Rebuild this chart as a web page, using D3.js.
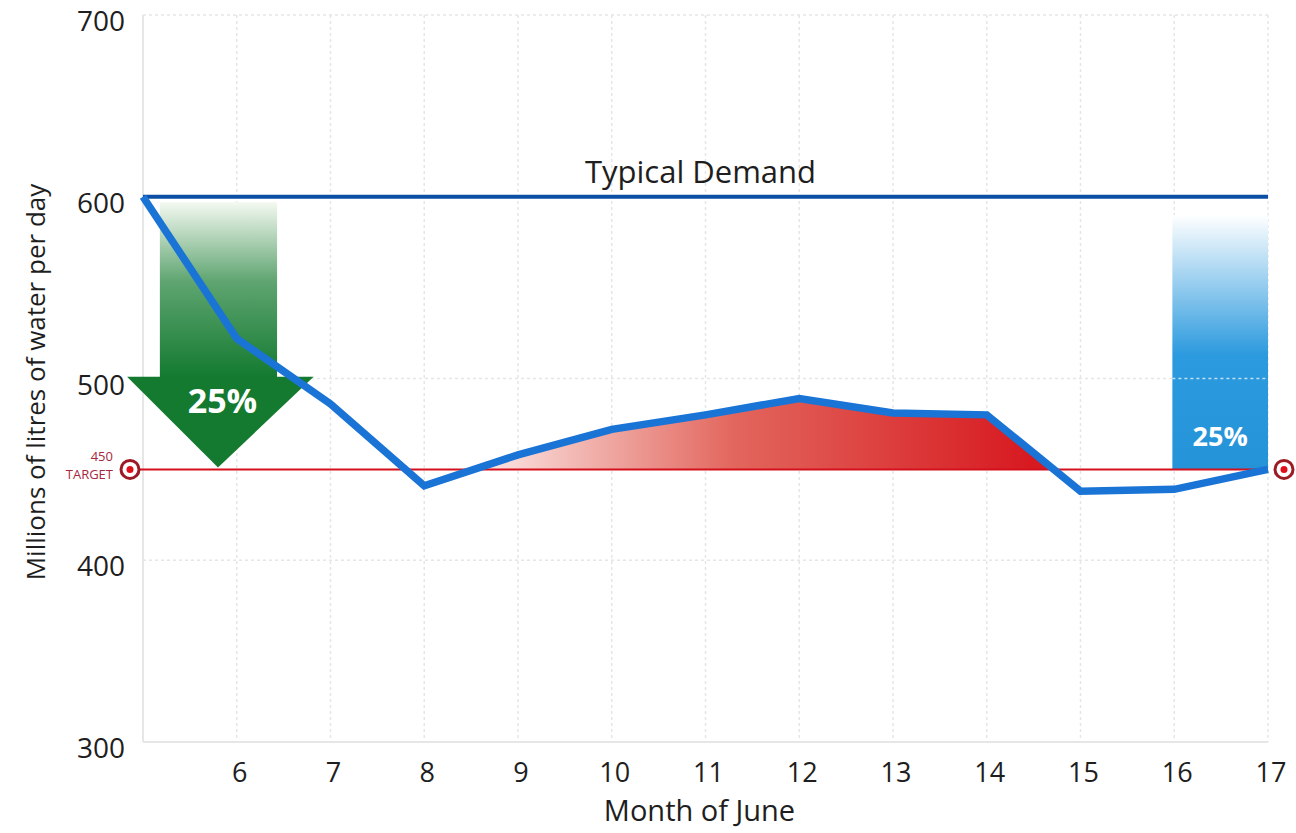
<!DOCTYPE html>
<html>
<head>
<meta charset="utf-8">
<script src="https://cdn.jsdelivr.net/npm/d3@7"></script>
<style>
  body { margin: 0; background: #fff; }
  text { font-family: "Open Sans", "Noto Sans", sans-serif; }
</style>
</head>
<body>
<div id="chart"></div>
<script>
// data
var days = [5, 6, 7, 8, 9, 10, 11, 12, 13, 14, 15, 16, 17];
var demand = [600, 522, 486, 441, 458, 472, 480, 489, 481, 480, 438, 439, 450];
var xTicks = [6, 7, 8, 9, 10, 11, 12, 13, 14, 15, 16, 17];
var yTicks = [300, 400, 500, 600, 700];
var typicalDemand = 600;
var target = 450;
var cutLabel = '25%';

var W = 1296, H = 833;
var svg = d3.select('#chart').append('svg')
    .attr('width', W).attr('height', H);

var x = d3.scaleLinear().domain([5, 17]).range([143, 1268]);
var y = d3.scaleLinear().domain([300, 700]).range([742, 15]);

var defs = svg.append('defs');

// gradients
var gRed = defs.append('linearGradient').attr('id', 'gRed')
    .attr('gradientUnits', 'userSpaceOnUse')
    .attr('x1', x(8.7)).attr('x2', x(14.5)).attr('y1', 0).attr('y2', 0);
gRed.append('stop').attr('offset', '0%').attr('stop-color', '#fbe4e2');
gRed.append('stop').attr('offset', '45%').attr('stop-color', '#e2665d');
gRed.append('stop').attr('offset', '100%').attr('stop-color', '#d71920');

var gGreen = defs.append('linearGradient').attr('id', 'gGreen')
    .attr('x1', 0).attr('x2', 0).attr('y1', 0).attr('y2', 1);
gGreen.append('stop').attr('offset', '0%').attr('stop-color', '#f4f9f1');
gGreen.append('stop').attr('offset', '45%').attr('stop-color', '#5fa571');
gGreen.append('stop').attr('offset', '100%').attr('stop-color', '#137a30');

var gBlue = defs.append('linearGradient').attr('id', 'gBlue')
    .attr('x1', 0).attr('x2', 0).attr('y1', 0).attr('y2', 1);
gBlue.append('stop').attr('offset', '0%').attr('stop-color', '#ffffff');
gBlue.append('stop').attr('offset', '55%').attr('stop-color', '#2c9ade');
gBlue.append('stop').attr('offset', '100%').attr('stop-color', '#2593d8');

defs.append('clipPath').attr('id', 'aboveTarget')
    .append('rect')
    .attr('x', x(5)).attr('y', y(700))
    .attr('width', x(17) - x(5)).attr('height', y(target) - y(700));

// grid
svg.append('g').selectAll('line.vg')
    .data(xTicks)
    .enter().append('line')
    .attr('x1', d => x(d)).attr('x2', d => x(d))
    .attr('y1', y(700)).attr('y2', y(300))
    .attr('stroke', '#e6e6e6').attr('stroke-width', 1.5)
    .attr('stroke-dasharray', '3,3');

svg.append('g').selectAll('line.hg')
    .data([400, 500, 700])
    .enter().append('line')
    .attr('x1', x(5)).attr('x2', x(17))
    .attr('y1', d => y(d)).attr('y2', d => y(d))
    .attr('stroke', '#e6e6e6').attr('stroke-width', 1.5)
    .attr('stroke-dasharray', '3,3');

// axis lines
svg.append('line')
    .attr('x1', x(5)).attr('x2', x(5)).attr('y1', y(700)).attr('y2', y(300))
    .attr('stroke', '#e6e6e6').attr('stroke-width', 2);
svg.append('line')
    .attr('x1', x(5)).attr('x2', x(17)).attr('y1', y(300)).attr('y2', y(300))
    .attr('stroke', '#e6e6e6').attr('stroke-width', 2);

// red area above target (days 8 - 15)
var rows = days.map((d, i) => ({day: d, v: demand[i]}));
var mid = rows.filter(d => d.day >= 8 && d.day <= 15);
var area = d3.area()
    .x(d => x(d.day))
    .y0(y(target))
    .y1(d => y(d.v));
svg.append('path')
    .datum(mid)
    .attr('clip-path', 'url(#aboveTarget)')
    .attr('fill', 'url(#gRed)')
    .attr('d', area);

// green arrow (25% cut)
var arrowTop = y(597), arrowNeck = y(501), arrowTip = y(451);
var ax0 = x(5.18), ax1 = x(6.43), hx0 = x(4.83), hx1 = x(6.82), tipX = x(5.8);
var green = svg.append('g');
green.append('rect')
    .attr('x', ax0).attr('y', arrowTop)
    .attr('width', ax1 - ax0).attr('height', arrowNeck - arrowTop + 1)
    .attr('fill', 'url(#gGreen)');
green.append('path')
    .attr('d', 'M' + hx0 + ',' + arrowNeck + 'L' + hx1 + ',' + arrowNeck + 'L' + tipX + ',' + arrowTip + 'Z')
    .attr('fill', '#137a30');

// blue bar on the right
var bx0 = x(15.98), bx1 = x(17), bTop = y(590);
svg.append('rect')
    .attr('x', bx0).attr('y', bTop)
    .attr('width', bx1 - bx0).attr('height', y(target) - bTop)
    .attr('fill', 'url(#gBlue)');
svg.append('line')
    .attr('x1', bx0).attr('x2', bx1).attr('y1', y(500)).attr('y2', y(500))
    .attr('stroke', '#bfe0f5').attr('stroke-width', 1.5)
    .attr('stroke-dasharray', '3,3');

// target line
svg.append('line')
    .attr('x1', x(5) - 5).attr('x2', x(17))
    .attr('y1', y(target)).attr('y2', y(target))
    .attr('stroke', '#d3101b').attr('stroke-width', 2);

// typical demand line
svg.append('line')
    .attr('x1', x(5)).attr('x2', x(17))
    .attr('y1', y(typicalDemand)).attr('y2', y(typicalDemand))
    .attr('stroke', '#0b4ea6').attr('stroke-width', 4);
svg.append('text')
    .attr('x', x(11) - 5).attr('y', y(typicalDemand) - 14)
    .attr('text-anchor', 'middle')
    .attr('font-size', 31).attr('fill', '#1e1e1e')
    .text('Typical Demand');

// demand line
var line = d3.line().x(d => x(d.day)).y(d => y(d.v));
svg.append('path')
    .datum(rows)
    .attr('fill', 'none')
    .attr('stroke', '#1a74d6')
    .attr('stroke-width', 7.5)
    .attr('stroke-linejoin', 'miter')
    .attr('d', line);

// 25% labels
svg.append('text')
    .attr('x', (ax0 + ax1) / 2 + 4).attr('y', arrowNeck + 36)
    .attr('text-anchor', 'middle')
    .attr('font-size', 34).attr('font-weight', 'bold').attr('fill', '#fff')
    .text(cutLabel);
svg.append('text')
    .attr('x', (bx0 + bx1) / 2).attr('y', y(target) - 23)
    .attr('text-anchor', 'middle')
    .attr('font-size', 27).attr('font-weight', 'bold').attr('fill', '#fff')
    .text(cutLabel);

// target markers
[x(5) - 13, x(17) + 16].forEach(function (cx) {
    svg.append('circle').attr('cx', cx).attr('cy', y(target)).attr('r', 9)
        .attr('fill', '#fff').attr('stroke', '#9c1a24').attr('stroke-width', 3);
    svg.append('circle').attr('cx', cx).attr('cy', y(target)).attr('r', 3.5)
        .attr('fill', '#e0101b');
});
svg.append('text')
    .attr('x', 113).attr('y', y(target) - 8)
    .attr('text-anchor', 'end').attr('font-size', 13).attr('fill', '#a52840')
    .text(String(target));
svg.append('text')
    .attr('x', 113).attr('y', y(target) + 10)
    .attr('text-anchor', 'end').attr('font-size', 13).attr('fill', '#a52840')
    .text('TARGET');

// y tick labels
svg.append('g').selectAll('text')
    .data(yTicks)
    .enter().append('text')
    .attr('x', 125).attr('y', d => y(d) + 16)
    .attr('text-anchor', 'end')
    .attr('font-size', 28).attr('fill', '#1e1e1e')
    .text(d => d);

// x tick labels
svg.append('g').selectAll('text')
    .data(xTicks)
    .enter().append('text')
    .attr('x', d => x(d) + 3).attr('y', 782)
    .attr('text-anchor', 'middle')
    .attr('font-size', 27).attr('fill', '#1e1e1e')
    .text(d => d);

// axis titles
svg.append('text')
    .attr('x', x(11) - 6).attr('y', 821)
    .attr('text-anchor', 'middle')
    .attr('font-size', 29).attr('fill', '#1e1e1e')
    .text('Month of June');
svg.append('text')
    .attr('transform', 'translate(45,' + 382 + ') rotate(-90)')
    .attr('text-anchor', 'middle')
    .attr('font-size', 26).attr('fill', '#1e1e1e')
    .text('Millions of litres of water per day');
</script>
</body>
</html>
